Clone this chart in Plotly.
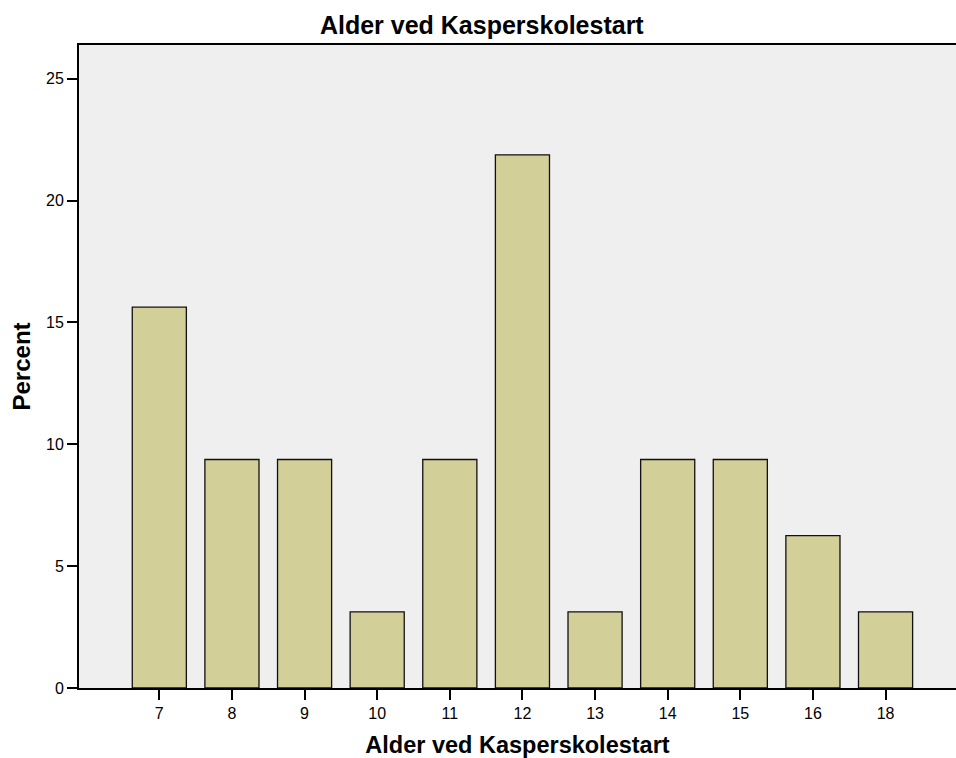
import plotly.graph_objects as go

# Alder ved Kasperskolestart - fordeling i prosent
ages = ["7", "8", "9", "10", "11", "12", "13", "14", "15", "16", "18"]
percent = [15.625, 9.375, 9.375, 3.125, 9.375, 21.875, 3.125, 9.375, 9.375, 6.25, 3.125]
y_ticks = [0, 5, 10, 15, 20, 25]

BAR_COLOR = "#d3cf98"
BG_COLOR = "#efefef"
FONT = "Liberation Sans, Arial, sans-serif"

fig = go.Figure(go.Bar(
    x=ages,
    y=percent,
    width=0.745,
    marker=dict(color=BAR_COLOR, line=dict(color="#111111", width=1.3)),
))

fig.update_layout(
    width=956,
    height=758,
    paper_bgcolor="white",
    plot_bgcolor=BG_COLOR,
    margin=dict(l=79, r=0, t=45, b=70),
    font=dict(family=FONT, size=16, color="black"),
    title=dict(text="<b>Alder ved Kasperskolestart</b>", xref="container", x=0.504,
               xanchor="center", yref="container", y=0.967, yanchor="middle",
               font=dict(size=25)),
    showlegend=False,
)

fig.update_xaxes(
    type="category",
    range=[-1.106, 10.97],
    showline=True, linecolor="black", linewidth=2, mirror=True,
    ticks="outside", ticklen=10, tickwidth=2, tickcolor="black",
    showgrid=False,
    title=dict(text="<b>Alder ved Kasperskolestart</b>", font=dict(size=23.5), standoff=16),
)

fig.update_yaxes(
    range=[0, 26.38],
    tickvals=y_ticks,
    showline=True, linecolor="black", linewidth=2,
    ticks="outside", ticklen=10, tickwidth=2, tickcolor="black",
    showgrid=False, zeroline=False,
    title=dict(text="<b>Percent</b>", font=dict(size=24), standoff=9),
)

# drop the default 8px body margin so the figure sits at the page corner
fig.write_html("out.html", config={"displayModeBar": False},
               post_script="document.body.style.margin = '0';")
